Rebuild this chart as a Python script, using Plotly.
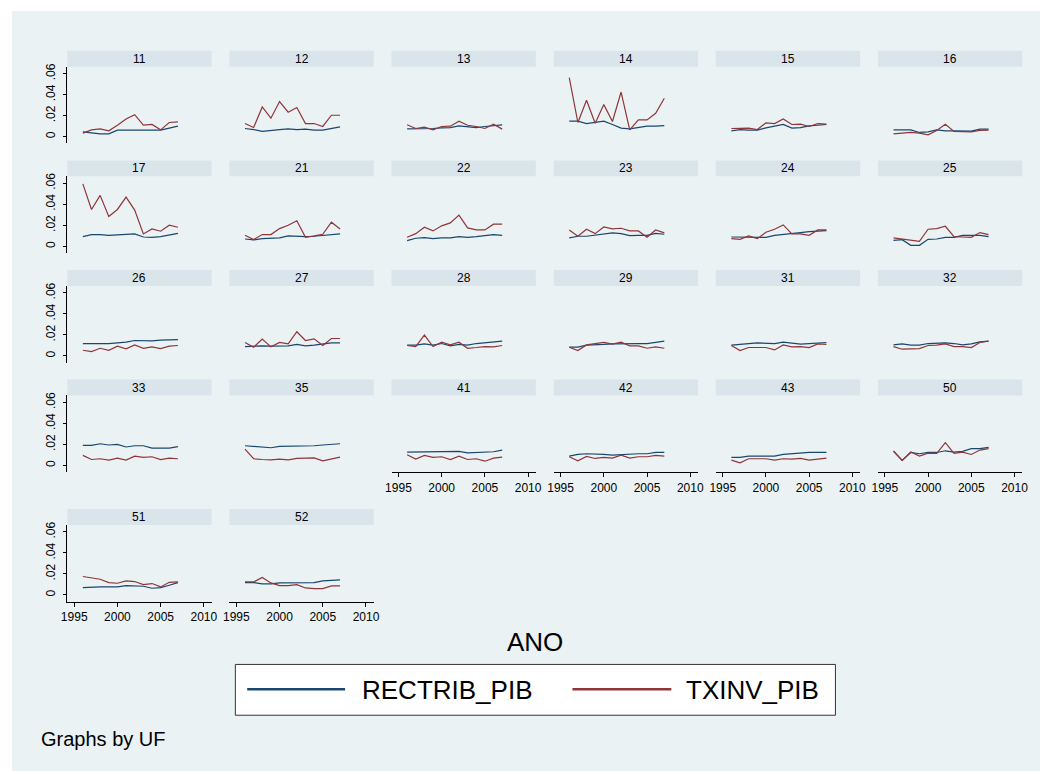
import plotly.graph_objects as go

# ---- data -------------------------------------------------------------
YEARS = [1996, 1997, 1998, 1999, 2000, 2001, 2002, 2003, 2004, 2005, 2006, 2007]

UF = ["11", "12", "13", "14", "15", "16", "17", "21", "22", "23", "24", "25", "26",
      "27", "28", "29", "31", "32", "33", "35", "41", "42", "43", "50", "51", "52"]

RECTRIB_PIB = {
    "11": [.0047, .0035, .0028, .0028, .0063, .0063, .0063, .0063, .0063, .0063, .0082, .0101],
    "12": [.0079, .0069, .0051, .0063, .0069, .0076, .0069, .0073, .0063, .0063, .0079, .0095],
    "13": [.0076, .0076, .0082, .0079, .0085, .0088, .0104, .0098, .0088, .0098, .0107, .0114],
    "14": [.0148, .0148, .0126, .0136, .0148, .0117, .0082, .0076, .0085, .0101, .0101, .0107],
    "15": [.0057, .0069, .0063, .0063, .0085, .0101, .0117, .0082, .0088, .0104, .0110, .0117],
    "16": [.0066, .0066, .0066, .0041, .0047, .0066, .0057, .0057, .0057, .0054, .0073, .0073],
    "17": [.0093, .0112, .0112, .0105, .0109, .0115, .0118, .0089, .0086, .0093, .0109, .0124],
    "21": [.0070, .0061, .0073, .0073, .0080, .0099, .0093, .0093, .0096, .0102, .0112, .0118],
    "22": [.0054, .0077, .0083, .0073, .0080, .0080, .0093, .0086, .0093, .0099, .0112, .0105],
    "23": [.0080, .0096, .0096, .0105, .0115, .0128, .0121, .0102, .0105, .0105, .0124, .0115],
    "24": [.0089, .0089, .0089, .0083, .0086, .0105, .0112, .0118, .0131, .0140, .0147, .0150],
    "25": [.0057, .0064, .0010, .0010, .0067, .0070, .0086, .0086, .0105, .0105, .0105, .0093],
    "26": [.0118, .0118, .0112, .0118, .0124, .0131, .0147, .0144, .0144, .0150, .0156, .0156],
    "27": [.0089, .0096, .0096, .0093, .0096, .0096, .0109, .0096, .0102, .0112, .0124, .0124],
    "28": [.0102, .0102, .0115, .0102, .0118, .0096, .0109, .0102, .0118, .0124, .0131, .0140],
    "29": [.0083, .0083, .0102, .0109, .0109, .0115, .0118, .0118, .0118, .0118, .0131, .0140],
    "31": [.0102, .0112, .0118, .0124, .0118, .0118, .0131, .0124, .0112, .0118, .0124, .0128],
    "32": [.0105, .0115, .0102, .0102, .0118, .0124, .0124, .0118, .0105, .0115, .0134, .0140],
    "33": [.0192, .0192, .0207, .0195, .0201, .0176, .0188, .0188, .0166, .0169, .0166, .0179],
    "35": [.0188, .0182, .0182, .0169, .0182, .0182, .0182, .0182, .0188, .0195, .0201, .0207],
    "41": [.0128, .0128, .0134, .0131, .0134, .0134, .0134, .0121, .0124, .0124, .0131, .0147],
    "42": [.0089, .0105, .0112, .0105, .0105, .0099, .0105, .0112, .0112, .0112, .0124, .0124],
    "43": [.0077, .0077, .0089, .0089, .0089, .0089, .0105, .0112, .0112, .0124, .0124, .0124],
    "50": [.0140, .0048, .0124, .0112, .0124, .0124, .0140, .0128, .0134, .0160, .0160, .0172],
    "51": [.0070, .0077, .0077, .0077, .0077, .0089, .0083, .0083, .0064, .0070, .0093, .0118],
    "52": [.0118, .0118, .0105, .0105, .0115, .0115, .0115, .0118, .0118, .0134, .0137, .0144],
}

TXINV_PIB = {
    "11": [.0035, .0066, .0076, .0057, .0110, .0170, .0210, .0110, .0117, .0066, .0136, .0142],
    "12": [.0126, .0088, .0284, .0177, .0335, .0234, .0278, .0126, .0126, .0098, .0205, .0205],
    "13": [.0114, .0079, .0091, .0066, .0098, .0101, .0148, .0110, .0098, .0079, .0120, .0073],
    "14": [.0562, .0136, .0347, .0129, .0306, .0145, .0426, .0066, .0161, .0161, .0224, .0366],
    "15": [.0079, .0082, .0082, .0069, .0133, .0126, .0170, .0117, .0120, .0098, .0126, .0120],
    "16": [.0028, .0035, .0041, .0035, .0019, .0060, .0120, .0051, .0051, .0047, .0060, .0063],
    "17": [.0594, .0351, .0485, .0284, .0351, .0469, .0345, .0118, .0166, .0144, .0201, .0182],
    "21": [.0105, .0064, .0112, .0112, .0169, .0201, .0243, .0086, .0099, .0115, .0230, .0166],
    "22": [.0086, .0121, .0182, .0147, .0195, .0223, .0297, .0176, .0156, .0156, .0211, .0211],
    "23": [.0156, .0096, .0163, .0121, .0185, .0166, .0172, .0147, .0147, .0086, .0156, .0128],
    "24": [.0073, .0067, .0099, .0073, .0134, .0163, .0204, .0118, .0118, .0105, .0156, .0156],
    "25": [.0080, .0070, .0061, .0048, .0163, .0169, .0191, .0093, .0089, .0086, .0131, .0112],
    "26": [.0054, .0041, .0073, .0054, .0093, .0067, .0105, .0073, .0086, .0070, .0093, .0099],
    "27": [.0128, .0083, .0160, .0086, .0128, .0115, .0230, .0147, .0163, .0099, .0166, .0166],
    "28": [.0099, .0089, .0198, .0089, .0131, .0105, .0131, .0073, .0080, .0089, .0086, .0099],
    "29": [.0083, .0051, .0105, .0115, .0128, .0112, .0131, .0096, .0096, .0073, .0086, .0073],
    "31": [.0099, .0051, .0080, .0080, .0080, .0057, .0105, .0086, .0089, .0080, .0115, .0109],
    "32": [.0089, .0064, .0067, .0070, .0099, .0102, .0115, .0089, .0089, .0080, .0128, .0140],
    "33": [.0096, .0057, .0064, .0051, .0070, .0051, .0089, .0077, .0083, .0057, .0070, .0064],
    "35": [.0156, .0064, .0057, .0054, .0061, .0054, .0067, .0067, .0073, .0045, .0064, .0080],
    "41": [.0102, .0061, .0096, .0077, .0083, .0057, .0089, .0057, .0064, .0041, .0070, .0080],
    "42": [.0083, .0045, .0086, .0067, .0077, .0070, .0099, .0070, .0083, .0083, .0096, .0089],
    "43": [.0051, .0026, .0064, .0061, .0064, .0051, .0064, .0061, .0067, .0051, .0064, .0070],
    "50": [.0134, .0048, .0128, .0089, .0118, .0115, .0217, .0115, .0128, .0105, .0147, .0160],
    "51": [.0176, .0163, .0150, .0118, .0112, .0134, .0128, .0099, .0109, .0077, .0121, .0124],
    "52": [.0124, .0124, .0166, .0115, .0089, .0089, .0099, .0067, .0061, .0061, .0086, .0086],
}

X_TICKS = [1995, 2000, 2005, 2010]
Y_TICKS = [0, 0.02, 0.04, 0.06]
Y_TICK_TEXT = ["0", ".02", ".04", ".06"]
SERIES_NAMES = ["RECTRIB_PIB", "TXINV_PIB"]

# ---- styling ----------------------------------------------------------
W, H = 1052, 774
BG = "#EAF2F3"
STRIP = "#D9E5EB"
GRID = "#EAF2F3"
BLUE = "#1A476F"
RED = "#90353B"
FONT = "Liberation Sans, Arial, sans-serif"

NCOL = 6
COL_LEFT, COL_PITCH, PLOT_W = 62, 164, 146
ROW_TOP = [48, 158, 268, 378, 508]          # top of each row's title strip
STRIP_H, PLOT_H = 16, 77
ZERO_OFF, PX_PER_UNIT = 70.3, 1055.0          # zero line offset from plot top, px per unit
X_RANGE = [1994.2, 2010.9]
Y_RANGE = [-(PLOT_H - ZERO_OFF) / PX_PER_UNIT, ZERO_OFF / PX_PER_UNIT]


def fx(x):
    return x / W


def fy(y):
    return 1 - y / H


fig = go.Figure()
shapes = [dict(type="rect", xref="paper", yref="paper", x0=fx(6), x1=fx(1046),
               y0=fy(771), y1=fy(8), fillcolor=BG, line=dict(width=0), layer="below")]
annotations = []
n = len(UF)

for i, uf in enumerate(UF):
    r, c = divmod(i, NCOL)
    sfx = "" if i == 0 else str(i + 1)
    left = COL_LEFT + c * COL_PITCH
    strip_top = ROW_TOP[r]
    top = strip_top + STRIP_H
    bottom = top + PLOT_H
    is_bottom = (i + NCOL) >= n
    is_left = c == 0

    fig.add_trace(go.Scatter(x=YEARS, y=RECTRIB_PIB[uf], mode="lines",
                             line=dict(color=BLUE, width=1.2), name=SERIES_NAMES[0],
                             showlegend=False, xaxis="x" + sfx, yaxis="y" + sfx))
    fig.add_trace(go.Scatter(x=YEARS, y=TXINV_PIB[uf], mode="lines",
                             line=dict(color=RED, width=1.2), name=SERIES_NAMES[1],
                             showlegend=False, xaxis="x" + sfx, yaxis="y" + sfx))

    fig.layout["xaxis" + sfx] = dict(
        domain=[fx(left), fx(left + PLOT_W)], anchor="y" + sfx, range=X_RANGE,
        showgrid=False, zeroline=False, fixedrange=True,
        showline=is_bottom, linecolor="black", linewidth=1,
        ticks="outside" if is_bottom else "", ticklen=4, tickcolor="black",
        tickvals=X_TICKS, showticklabels=is_bottom,
        tickfont=dict(family=FONT, size=12, color="black"))
    fig.layout["yaxis" + sfx] = dict(
        domain=[fy(bottom), fy(top)], anchor="x" + sfx, range=Y_RANGE,
        showgrid=True, gridcolor=GRID, gridwidth=1, zeroline=False, fixedrange=True,
        showline=is_left, linecolor="black", linewidth=1,
        ticks="outside" if is_left else "", ticklen=3, tickcolor="black",
        tickvals=Y_TICKS, ticktext=Y_TICK_TEXT, showticklabels=is_left,
        ticklabelstandoff=3,
        tickangle=-90, tickfont=dict(family=FONT, size=12, color="black"))

    shapes.append(dict(type="rect", xref="paper", yref="paper",
                       x0=fx(left), x1=fx(left + PLOT_W), y0=fy(top), y1=fy(strip_top),
                       fillcolor=STRIP, line=dict(width=0), layer="below"))
    annotations.append(dict(xref="paper", yref="paper", x=fx(left + PLOT_W / 2),
                            y=fy(strip_top + STRIP_H / 2), text=uf, showarrow=False,
                            xanchor="center", yanchor="middle",
                            font=dict(family=FONT, size=12, color="black")))

# x-axis title
annotations.append(dict(xref="paper", yref="paper", x=fx(535), y=fy(641), text="ANO",
                        showarrow=False, xanchor="center", yanchor="middle",
                        font=dict(family=FONT, size=26, color="black")))

# legend box
shapes.append(dict(type="rect", xref="paper", yref="paper", x0=fx(232), x1=fx(839),
                   y0=fy(715), y1=fy(664), fillcolor="white",
                   line=dict(color="#333333", width=1)))
legend_items = [(SERIES_NAMES[0], BLUE, 244, 343, 358), (SERIES_NAMES[1], RED, 573, 673, 686)]
for name, color, lx0, lx1, tx in legend_items:
    shapes.append(dict(type="line", xref="paper", yref="paper", x0=fx(lx0), x1=fx(lx1),
                       y0=fy(689), y1=fy(689), line=dict(color=color, width=2.5)))
    annotations.append(dict(xref="paper", yref="paper", x=fx(tx), y=fy(690), text=name,
                            showarrow=False, xanchor="left", yanchor="middle",
                            font=dict(family=FONT, size=26, color="black")))

# note
annotations.append(dict(xref="paper", yref="paper", x=fx(33), y=fy(739), text="Graphs by UF",
                        showarrow=False, xanchor="left", yanchor="middle",
                        font=dict(family=FONT, size=20, color="black")))

fig.update_layout(width=W, height=H, autosize=False,
                  margin=dict(l=0, r=0, t=0, b=0),
                  paper_bgcolor="white", plot_bgcolor="white",
                  showlegend=False, shapes=shapes, annotations=annotations,
                  font=dict(family=FONT))

fig.write_html("out.html")
